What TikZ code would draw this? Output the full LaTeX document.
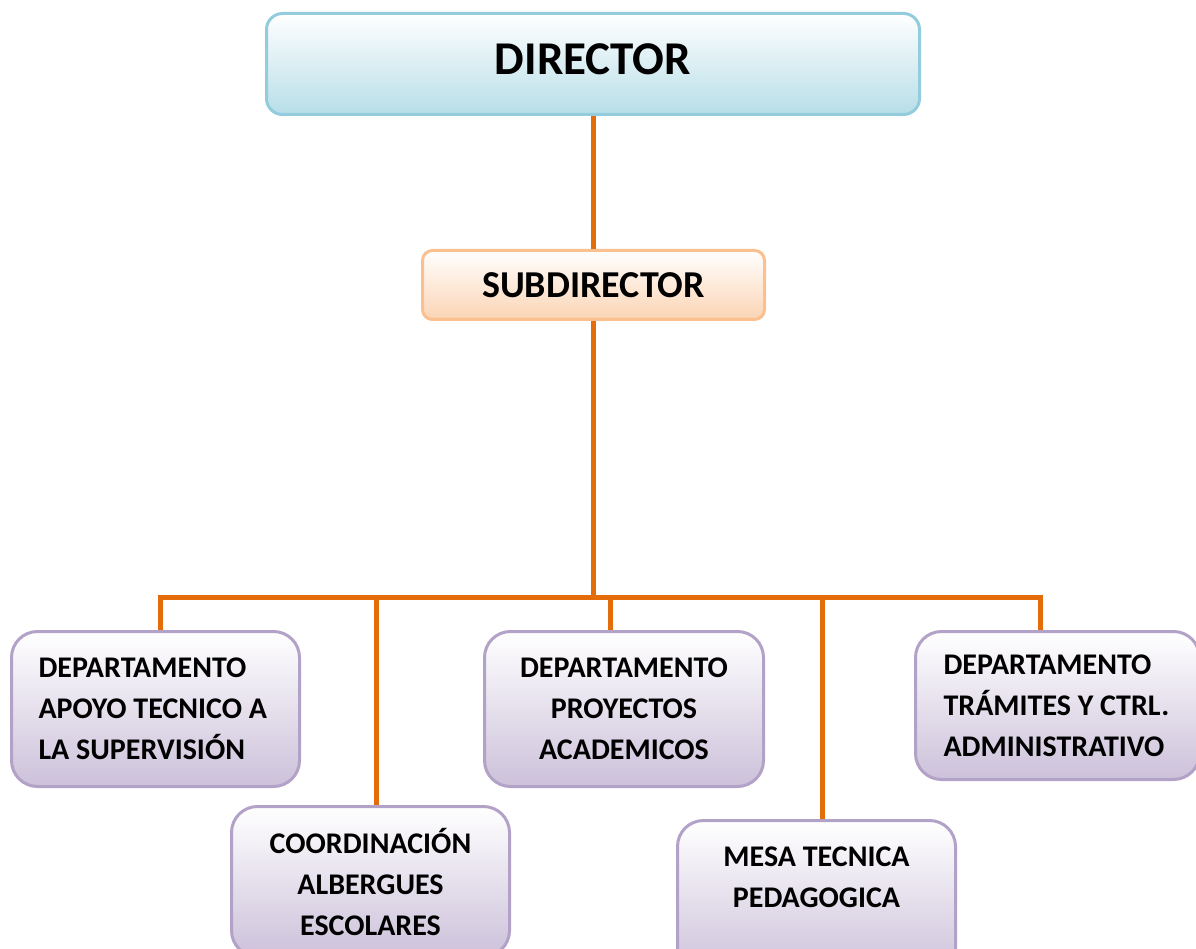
\documentclass[tikz,border=0pt]{standalone}
\usepackage{fontspec}
\setmainfont{Carlito}
\definecolor{linea}{HTML}{E46C0A}
\definecolor{azulborde}{HTML}{93CDDD}
\definecolor{azulfondo}{HTML}{B7DEE8}
\definecolor{naranjaborde}{HTML}{FAC08F}
\definecolor{naranjafondo}{HTML}{FBD4B4}
\definecolor{moradoborde}{HTML}{B3A2C7}
\definecolor{moradofondo}{HTML}{CCC1DA}
\tikzset{
	caja/.style={draw, line width=3pt, anchor=north west, inner sep=0pt},
	jefe/.style={caja, draw=azulborde, top color=white, bottom color=azulfondo, rounded corners=16pt,
		font=\fontsize{47}{56}\selectfont\bfseries},
	subjefe/.style={caja, draw=naranjaborde, top color=white, bottom color=naranjafondo, rounded corners=10pt,
		font=\fontsize{38}{46}\selectfont\bfseries},
	depto/.style={caja, draw=moradoborde, top color=white, bottom color=moradofondo, rounded corners=26pt,
		font=\fontsize{30}{41}\selectfont\bfseries},
	conector/.style={draw=linea, line width=5pt}
}
\begin{document}
\begin{tikzpicture}[x=1pt,y=-1pt]
		\useasboundingbox (0,0) rectangle (1196,949);
		\clip (0,0) rectangle (1196,949);
		\node[jefe, minimum width=653, minimum height=101, text depth=9pt] (director) at (265,12) {DIRECTOR};
		\node[subjefe, minimum width=342, minimum height=69] (subdirector) at (421,249) {SUBDIRECTOR};
		\node[depto, minimum width=288, minimum height=155, text width=234, align=flush left] (apoyo) at (10,630)
			{DEPARTAMENTO\\APOYO TECNICO A\\LA SUPERVISIÓN};
		\node[depto, minimum width=278, minimum height=150, align=center] (albergues) at (230,805)
			{COORDINACIÓN\\ALBERGUES\\ESCOLARES};
		\node[depto, minimum width=279, minimum height=155, align=center] (proyectos) at (483,630)
			{DEPARTAMENTO\\PROYECTOS\\ACADEMICOS};
		\node[depto, minimum width=278, minimum height=155, align=center] (mesa) at (676,819)
			{MESA TECNICA\\PEDAGOGICA\\\mbox{}};
		\node[depto, minimum width=284, minimum height=148, text width=228, align=flush left] (tramites) at (914,630)
			{DEPARTAMENTO\\TRÁMITES Y CTRL.\\ADMINISTRATIVO};
		\coordinate (barra) at (593,597);
		\coordinate (b1) at (160,597);
		\coordinate (b2) at (376,597);
		\coordinate (b3) at (610,597);
		\coordinate (b4) at (822,597);
		\coordinate (b5) at (1040,597);
		\draw[conector] (director.south) -- (director.south |- subdirector.north);
		\draw[conector] (subdirector.south -| barra) -- (barra);
		\draw[conector] (apoyo.north -| b1) -- (b1) -- (b5) -- (tramites.north -| b5);
		\draw[conector] (b2) -- (b2 |- albergues.north);
		\draw[conector] (b3) -- (b3 |- proyectos.north);
		\draw[conector] (b4) -- (b4 |- mesa.north);
		\end{tikzpicture}
\end{document}
